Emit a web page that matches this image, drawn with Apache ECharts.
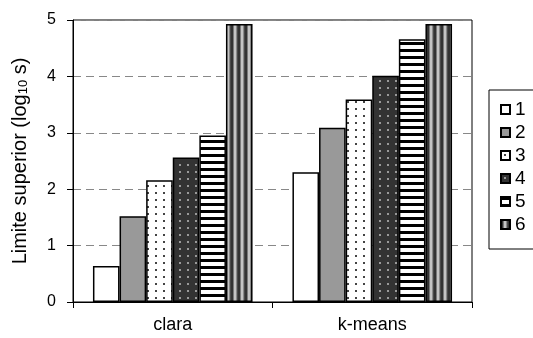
<!DOCTYPE html>
<html>
<head>
<meta charset="utf-8">
<script src="https://cdn.jsdelivr.net/npm/echarts@6/dist/echarts.min.js"></script>
<style>
  html, body { margin: 0; padding: 0; background: #fff; }
  #chart { width: 533px; height: 338px; }
</style>
</head>
<body>
<div id="chart"></div>
<script>
// Upper time bound (log10 seconds) per method and scenario
var categories = ['clara', 'k-means'];
var seriesNames = ['1', '2', '3', '4', '5', '6'];
var claraValues = [0.64, 1.52, 2.16, 2.56, 2.95, 4.93];
var kmeansValues = [2.30, 3.09, 3.59, 4.01, 4.66, 4.93];
var yTicks = [0, 1, 2, 3, 4, 5];

// Monochrome fill patterns drawn on small canvases
function makeTile(w, h, draw) {
  var c = document.createElement('canvas');
  c.width = w; c.height = h;
  var ctx = c.getContext('2d');
  draw(ctx, w, h);
  return { image: c, repeat: 'repeat' };
}

var fills = [
  '#ffffff',
  '#999999',
  makeTile(8, 7, function (ctx, w, h) {
    ctx.fillStyle = '#ffffff'; ctx.fillRect(0, 0, w, h);
    ctx.fillStyle = '#444444'; ctx.fillRect(3, 3, 2, 2);
  }),
  makeTile(8, 7, function (ctx, w, h) {
    ctx.fillStyle = '#333333'; ctx.fillRect(0, 0, w, h);
    ctx.fillStyle = '#9a9a9a'; ctx.fillRect(3, 3, 2, 2);
  }),
  makeTile(7, 7, function (ctx, w, h) {
    ctx.fillStyle = '#ffffff'; ctx.fillRect(0, 0, w, h);
    ctx.fillStyle = '#000000'; ctx.fillRect(0, 0, w, 3);
  }),
  makeTile(7, 7, function (ctx, w, h) {
    var cols = ['#333333', '#333333', '#7a7a7a', '#c4c4c4', '#c4c4c4', '#8a8a8a', '#4a4a4a'];
    for (var i = 0; i < cols.length; i++) {
      ctx.fillStyle = cols[i]; ctx.fillRect(i, 0, 1, h);
    }
  })
];

var FONT = 'Liberation Sans, Arial, sans-serif';

var series = seriesNames.map(function (name, i) {
  return {
    name: name,
    type: 'bar',
    data: [claraValues[i], kmeansValues[i]],
    barGap: '0%',
    barCategoryGap: '20%',
    itemStyle: { color: fills[i], borderColor: '#000', borderWidth: 1.5 },
    emphasis: { disabled: true }
  };
});

var chart = echarts.init(document.getElementById('chart'), null, { renderer: 'canvas' });
chart.setOption({
  animation: false,
  backgroundColor: '#fff',
  textStyle: { fontFamily: FONT },
  grid: {
    left: 73, right: 61, top: 20, bottom: 36,
    show: true, borderColor: '#000', borderWidth: 1,
    outerBoundsMode: 'none'
  },
  legend: {
    orient: 'vertical',
    left: 489, top: 90,
    padding: [10, 20, 15, 11],
    itemWidth: 9, itemHeight: 9,
    itemGap: 4,
    icon: 'rect',
    borderColor: '#000', borderWidth: 1,
    textStyle: { fontSize: 19, color: '#000', fontFamily: FONT },
    data: seriesNames
  },
  xAxis: {
    type: 'category',
    data: categories,
    axisLine: { lineStyle: { color: '#000', width: 1 } },
    axisTick: { show: true, length: 6, lineStyle: { color: '#000' } },
    axisLabel: { color: '#000', fontSize: 18, margin: 14, fontFamily: FONT }
  },
  yAxis: {
    type: 'value',
    min: yTicks[0], max: yTicks[yTicks.length - 1], interval: 1,
    name: '{a|Limite superior (log}{b|10}{a| s)}',
    nameLocation: 'middle',
    nameRotate: 90,
    nameGap: 43,
    nameTextStyle: {
      rich: {
        a: { fontSize: 20, color: '#000', fontFamily: FONT },
        b: { fontSize: 13, color: '#000', fontFamily: FONT, verticalAlign: 'bottom', padding: [7, 0, 0, 0] }
      }
    },
    axisLine: { show: true, lineStyle: { color: '#000', width: 1 } },
    axisTick: { show: true, length: 6, lineStyle: { color: '#000' } },
    axisLabel: { color: '#000', fontSize: 16, margin: 17, fontFamily: FONT },
    splitLine: { show: true, lineStyle: { color: '#888', type: [8, 5], width: 1 } }
  },
  series: series
});
</script>
</body>
</html>
